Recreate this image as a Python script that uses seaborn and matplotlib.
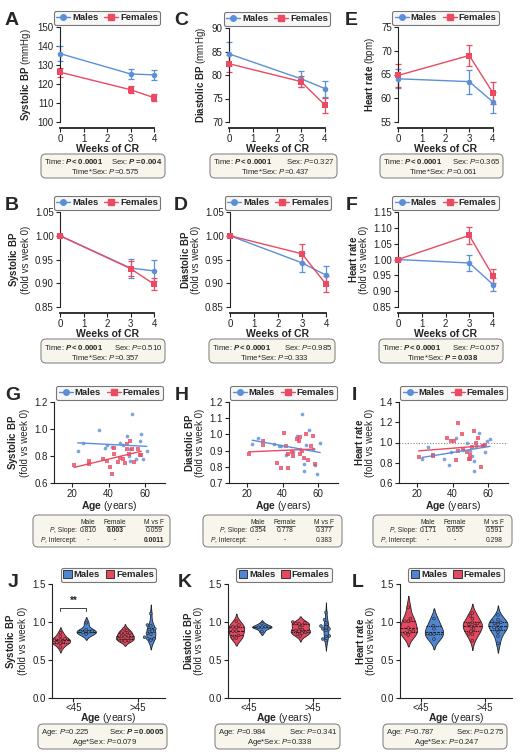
import numpy as np
import pandas as pd
import matplotlib.pyplot as plt
import seaborn as sns
from matplotlib.lines import Line2D
from matplotlib.patches import Patch, FancyBboxPatch
from matplotlib.ticker import FormatStrFormatter

sns.set_style("ticks")
plt.rcParams["font.family"] = ["Liberation Sans", "DejaVu Sans"]
plt.rcParams.update({
    "mathtext.fontset": "custom",
    "mathtext.rm": "Liberation Sans",
    "mathtext.it": "Liberation Sans:italic",
    "mathtext.bf": "Liberation Sans:bold",
    "mathtext.bfit": "Liberation Sans:italic:bold",
    "axes.linewidth": 0.8,
    "axes.edgecolor": "#222222",
    "xtick.color": "#222222", "ytick.color": "#222222",
    "xtick.major.width": 0.8, "ytick.major.width": 0.8,
    "xtick.major.size": 3, "ytick.major.size": 3,
    "xtick.labelsize": 7, "ytick.labelsize": 7,
    "xtick.major.pad": 1.5, "ytick.major.pad": 1.5,
})

BLUE = "#5b8fd8"
RED = "#ea4a62"
PAL = {"Males": BLUE, "Females": RED}
VPAL = {"Males": "#4f86d2", "Females": "#e5485f"}

# ---- weekly means +/- SEM (A-F) ----
weeks = [0, 3, 4]
sbp_m, sbp_m_se = [136.0, 125.3, 124.8], [4.0, 2.8, 2.5]
sbp_f, sbp_f_se = [126.2, 117.0, 112.8], [2.3, 1.8, 1.8]
dbp_m, dbp_m_se = [84.5, 79.2, 77.1], [2.5, 1.7, 1.7]
dbp_f, dbp_f_se = [82.4, 78.6, 73.6], [1.8, 1.2, 1.6]
hr_m, hr_m_se = [64.1, 63.5, 59.2], [2.0, 2.5, 2.2]
hr_f, hr_f_se = [64.8, 69.0, 61.1], [2.4, 2.2, 2.3]
sbp_fold_m, sbp_fold_m_se = [1.0, 0.932, 0.926], [0.0, 0.020, 0.022]
sbp_fold_f, sbp_fold_f_se = [1.0, 0.931, 0.898], [0.0, 0.015, 0.013]
dbp_fold_m, dbp_fold_m_se = [1.0, 0.943, 0.917], [0.0, 0.020, 0.020]
dbp_fold_f, dbp_fold_f_se = [1.0, 0.962, 0.898], [0.0, 0.020, 0.017]
hr_fold_m, hr_fold_m_se = [1.0, 0.989, 0.921], [0.0, 0.025, 0.020]
hr_fold_f, hr_fold_f_se = [1.0, 1.076, 0.948], [0.0, 0.027, 0.022]

# ---- individual fold change at week 4 vs age (G-L) ----
male_age = [23, 26, 35, 38, 39, 42, 46, 48, 50, 51, 52, 52, 53, 55, 57, 58, 59, 61]
female_age = [21, 29, 29, 37, 39, 41, 42, 43, 43, 45, 46, 48, 49, 50, 50, 51, 52, 53, 54, 56, 57, 58]
sbp_ind_m = [0.84, 0.90, 0.99, 0.86, 0.88, 0.87, 0.90, 0.88, 0.95, 0.80, 0.76, 0.85,
             1.11, 0.78, 0.91, 0.96, 0.78, 0.84]
sbp_ind_f = [0.73, 0.74, 0.76, 0.78, 0.765, 0.72, 0.67, 0.815, 0.86, 0.755, 0.785, 0.78,
             0.75, 0.855, 0.89, 0.815, 0.91, 0.855, 0.755, 0.855, 0.81, 0.805]
dbp_ind_m = [0.94, 0.978, 0.94, 0.93, 0.93, 0.875, 0.89, 0.99, 0.91, 1.126, 0.776, 0.817,
             0.937, 1.03, 0.91, 0.81, 0.756, 0.947]
dbp_ind_f = [0.88, 0.96, 0.937, 0.824, 0.79, 1.01, 0.93, 0.79, 0.88, 0.89, 0.865, 0.974,
             0.957, 0.982, 0.88, 0.90, 0.855, 1.00, 0.84, 0.93, 0.99, 0.817]
hr_ind_m = [0.84, 0.953, 0.84, 0.775, 0.91, 1.045, 0.93, 0.995, 0.913, 0.864, 0.814, 0.72,
            0.97, 1.094, 0.98, 0.906, 1.01, 1.03]
hr_ind_f = [0.854, 0.88, 0.87, 1.045, 1.01, 1.01, 0.83, 1.193, 0.92, 1.08, 0.94, 0.907,
            0.84, 0.84, 0.88, 0.953, 1.118, 0.995, 1.045, 0.755, 0.97, 0.98]

W, H = 520, 753
fig = plt.figure(figsize=(W / 100, H / 100), dpi=100)
renderer = fig.canvas.get_renderer()


def px_ax(l, t, r, b):
    return fig.add_axes([l / W, 1 - b / H, (r - l) / W, (b - t) / H])


def ftext(x, y, s, **kw):
    return fig.text(x / 100, (H - y) / 100, s, transform=fig.dpi_scale_trans, **kw)


def add_legend(ax, patches=False):
    if patches:
        handles = [Patch(facecolor=VPAL["Males"], edgecolor="#222", lw=0.6),
                   Patch(facecolor=VPAL["Females"], edgecolor="#222", lw=0.6)]
        hl = 0.9
    else:
        handles = [Line2D([], [], color=BLUE, marker="o", ms=4, lw=1),
                   Line2D([], [], color=RED, marker="s", ms=4, lw=1)]
        hl = 1.5
    leg = ax.legend(handles, ["Males", "Females"], ncol=2, loc="lower center",
                    bbox_to_anchor=(0.5, 1.0), frameon=True, fancybox=True,
                    prop={"weight": "bold", "size": 6.8}, handlelength=hl,
                    handleheight=0.8, handletextpad=0.2, columnspacing=0.6,
                    borderpad=0.25, borderaxespad=0.25)
    fr = leg.get_frame()
    fr.set_edgecolor("#777777")
    fr.set_facecolor("#f7f7f7")
    fr.set_linewidth(0.8)
    fr.set_alpha(1)


def line_panel(ax, m, m_se, f, f_se, yticks, fmt, ylabel):
    df = pd.DataFrame({"Week": weeks + weeks, "Value": m + f,
                       "Sex": ["Males"] * 3 + ["Females"] * 3})
    for vals, errs, col in [(m, m_se, BLUE), (f, f_se, RED)]:
        ax.errorbar(weeks, vals, yerr=errs, fmt="none", ecolor=col, elinewidth=0.9,
                    capsize=2, capthick=0.9, clip_on=False, zorder=2)
    sns.lineplot(data=df, x="Week", y="Value", hue="Sex", style="Sex",
                 hue_order=["Males", "Females"], style_order=["Males", "Females"],
                 palette=PAL, markers={"Males": "o", "Females": "s"}, dashes=False,
                 markersize=4, markeredgewidth=0, lw=1, legend=False, ax=ax,
                 clip_on=False, zorder=3)
    ax.set_xlim(0, 4)
    ax.set_xticks([0, 1, 2, 3, 4])
    ax.set_ylim(yticks[0], yticks[-1])
    ax.set_yticks(yticks)
    ax.yaxis.set_major_formatter(FormatStrFormatter(fmt))
    sns.despine(ax=ax)
    ax.spines["bottom"].set_position(("outward", 4))
    ax.spines["bottom"].set_bounds(0, 4)
    ax.spines["bottom"].set_linewidth(1.3)
    ax.set_xlabel("Weeks of CR", fontweight="bold", fontsize=7.5, labelpad=0)
    ax.set_ylabel(ylabel, fontsize=7, labelpad=3, linespacing=1.0)
    add_legend(ax)


def scatter_panel(ax, m_val, f_val, yticks, fmt, ylabel, ref=False):
    if ref:
        ax.axhline(1.0, color="#888888", lw=0.8, ls=(0, (1, 1.5)), zorder=0)
    for age, val, col, mk in [(male_age, m_val, BLUE, "o"), (female_age, f_val, RED, "s")]:
        sns.regplot(x=np.array(age, float), y=np.array(val), ax=ax, ci=None, color=col,
                    marker=mk, scatter_kws={"s": 7, "linewidths": 0, "clip_on": False},
                    line_kws={"lw": 1})
    ax.set_xlim(10, 71)
    ax.set_xticks([20, 40, 60])
    ax.set_ylim(yticks[0], yticks[-1])
    ax.set_yticks(yticks)
    ax.yaxis.set_major_formatter(FormatStrFormatter(fmt))
    sns.despine(ax=ax)
    ax.set_xlabel(r"$\mathbf{Age}$ (years)", fontsize=7.5, labelpad=0)
    ax.set_ylabel(ylabel, fontsize=7, labelpad=3, linespacing=1.0)
    add_legend(ax)


def violin_panel(ax, m_val, f_val, ylabel):
    df = pd.DataFrame({"Age": male_age + female_age, "Value": m_val + f_val,
                       "Sex": ["Males"] * len(male_age) + ["Females"] * len(female_age)})
    df["Group"] = np.where(df["Age"] < 45, "<45", ">45")
    sns.violinplot(data=df, x="Group", y="Value", hue="Sex", order=["<45", ">45"],
                   hue_order=["Females", "Males"], palette=VPAL, inner="quart",
                   width=0.8, gap=0.25, linewidth=0.6, linecolor="#222222",
                   saturation=1, legend=False, ax=ax, inner_kws={"linewidth": 0.8})
    sns.swarmplot(data=df, x="Group", y="Value", hue="Sex", order=["<45", ">45"],
                  hue_order=["Females", "Males"], palette=VPAL, dodge=True, size=2,
                  edgecolor="#222222", linewidth=0.4, legend=False, ax=ax)
    ax.set_xlim(-0.33, 1.42)
    ax.set_ylim(0, 1.5)
    ax.set_yticks([0.0, 0.5, 1.0, 1.5])
    ax.yaxis.set_major_formatter(FormatStrFormatter("%.1f"))
    ax.tick_params(axis="x", pad=0.5)
    sns.despine(ax=ax)
    ax.set_xlabel(r"$\mathbf{Age}$ (years)", fontsize=7.5, labelpad=-1.5)
    ax.set_ylabel(ylabel, fontsize=7, labelpad=3, linespacing=1.0)
    add_legend(ax, patches=True)


def stat_box(x0, y0, x1, y1, left, right, bottom):
    fig.add_artist(FancyBboxPatch((x0 / 100, (H - y1) / 100), (x1 - x0) / 100,
                                  (y1 - y0) / 100, boxstyle="round,pad=0,rounding_size=0.05",
                                  transform=fig.dpi_scale_trans, fc="#f8f6ec", ec="#888888",
                                  lw=0.8))
    ftext(x0 + 3, y0 + 8, left, fontsize=5.6, ha="left", va="center")
    ftext(x1 - 3, y0 + 8, right, fontsize=5.6, ha="right", va="center")
    ftext((x0 + x1) / 2 + 2, y0 + 18, bottom, fontsize=5.6, ha="center", va="center")


def row_label(x, y, rest, fs):
    # plain ", Slope:" text, then an italic "P" placed just to its left
    t = ftext(x, y, rest, fontsize=fs, ha="right", va="center")
    bb = t.get_window_extent(renderer)
    ftext(bb.x0 * 100 / fig.dpi, y, "P", fontsize=fs, ha="right", va="center",
          fontstyle="italic")


def table_box(x0, y0, x1, y1, slope, intercept):
    fig.add_artist(FancyBboxPatch((x0 / 100, (H - y1) / 100), (x1 - x0) / 100,
                                  (y1 - y0) / 100, boxstyle="round,pad=0,rounding_size=0.05",
                                  transform=fig.dpi_scale_trans, fc="#f8f6ec", ec="#888888",
                                  lw=0.8))
    fs = 4.9
    cols = [x0 + 55, x0 + 82, x0 + 121]
    widths = [13, 19, 18]
    for cx, w, name in zip(cols, widths, ["Male", "Female", "M vs F"]):
        ftext(cx, y0 + 7, name, fontsize=fs, ha="center", va="center")
        fig.add_artist(Line2D([(cx - w / 2) / 100, (cx + w / 2) / 100],
                              [(H - y0 - 10.5) / 100] * 2, transform=fig.dpi_scale_trans,
                              color="#222", lw=0.5))
    row_label(x0 + 44, y0 + 16, ", Slope:", fs)
    row_label(x0 + 44, y0 + 25, ", Intercept:", fs)
    for cx, (s, b) in zip(cols, slope):
        ftext(cx, y0 + 16, s, fontsize=fs, ha="center", va="center",
              fontweight="bold" if b else "normal")
    for cx, (s, b) in zip(cols, intercept):
        ftext(cx, y0 + 25, s, fontsize=fs, ha="center", va="center",
              fontweight="bold" if b else "normal")


BP = r"$\mathbf{Systolic\ BP}$"
DP = r"$\mathbf{Diastolic\ BP}$"
HRL = r"$\mathbf{Heart\ rate}$"
FOLD = "\n(fold vs week 0)"
TIME_SIG = r"Time: $\mathbfit{P}\mathbf{{<}0.0001}$"

# ---- row 1 ----
axA = px_ax(60, 27, 154, 122)
line_panel(axA, sbp_m, sbp_m_se, sbp_f, sbp_f_se, list(range(100, 151, 10)), "%d",
           BP + " (mmHg)")
axC = px_ax(229, 28, 325, 122)
line_panel(axC, dbp_m, dbp_m_se, dbp_f, dbp_f_se, list(range(70, 91, 5)), "%d",
           DP + " (mmHg)")
axE = px_ax(398, 27, 493, 122)
line_panel(axE, hr_m, hr_m_se, hr_f, hr_f_se, list(range(55, 76, 5)), "%d",
           HRL + " (bpm)")

# ---- row 2 ----
axB = px_ax(60, 212, 154, 307)
line_panel(axB, sbp_fold_m, sbp_fold_m_se, sbp_fold_f, sbp_fold_f_se,
           [0.85, 0.90, 0.95, 1.00, 1.05], "%.2f", BP + FOLD)
axD = px_ax(230, 212, 326, 307)
line_panel(axD, dbp_fold_m, dbp_fold_m_se, dbp_fold_f, dbp_fold_f_se,
           [0.85, 0.90, 0.95, 1.00, 1.05], "%.2f", DP + FOLD)
axF = px_ax(398, 212, 493, 307)
line_panel(axF, hr_fold_m, hr_fold_m_se, hr_fold_f, hr_fold_f_se,
           [0.85, 0.90, 0.95, 1.00, 1.05, 1.10, 1.15], "%.2f", HRL + FOLD)

# ---- row 3 ----
axG = px_ax(54, 402, 165, 483)
scatter_panel(axG, sbp_ind_m, sbp_ind_f, [0.6, 0.8, 1.0, 1.2], "%.1f", BP + FOLD)
axH = px_ax(229, 402, 338, 483)
scatter_panel(axH, dbp_ind_m, dbp_ind_f, [0.7, 0.8, 0.9, 1.0, 1.1, 1.2], "%.1f", DP + FOLD)
axI = px_ax(399, 402, 508, 483)
scatter_panel(axI, hr_ind_m, hr_ind_f, [0.6, 0.8, 1.0, 1.2, 1.4], "%.1f", HRL + FOLD, ref=True)

# ---- row 4 ----
axJ = px_ax(52, 584, 165, 698)
violin_panel(axJ, sbp_ind_m, sbp_ind_f, BP + FOLD)
axJ.plot([-0.2, -0.2, 0.2, 0.2], [1.14, 1.19, 1.19, 1.14], color="#444444", lw=0.7)
axJ.text(0, 1.21, "**", ha="center", va="bottom", fontsize=7, fontweight="bold")
axK = px_ax(228, 584, 340, 698)
violin_panel(axK, dbp_ind_m, dbp_ind_f, DP + FOLD)
axL = px_ax(400, 584, 512, 698)
violin_panel(axL, hr_ind_m, hr_ind_f, HRL + FOLD)

# ---- panel letters ----
for letter, x, y in [("A", 5, 12), ("C", 174, 12), ("E", 345, 12),
                     ("B", 5, 197), ("D", 174, 197), ("F", 346, 197),
                     ("G", 5, 387), ("H", 175, 387), ("I", 352, 387),
                     ("J", 8, 574), ("K", 178, 574), ("L", 352, 574)]:
    ftext(x, y, letter, fontsize=14, fontweight="bold", ha="left", va="top")

# ---- statistics boxes ----
stat_box(41, 154, 165, 178, TIME_SIG, r"Sex: $\mathbfit{P}\mathbf{{=}0.004}$",
         r"Time*Sex: $\mathit{P}$=0.575")
stat_box(210, 154, 337, 178, TIME_SIG, r"Sex: $\mathit{P}$=0.327",
         r"Time*Sex: $\mathit{P}$=0.437")
stat_box(380, 154, 503, 178, TIME_SIG, r"Sex: $\mathit{P}$=0.365",
         r"Time*Sex: $\mathit{P}$=0.061")
stat_box(41, 339, 165, 363, TIME_SIG, r"Sex: $\mathit{P}$=0.510",
         r"Time*Sex: $\mathit{P}$=0.357")
stat_box(209, 339, 335, 363, TIME_SIG, r"Sex: $\mathit{P}$=0.985",
         r"Time*Sex: $\mathit{P}$=0.333")
stat_box(379, 339, 503, 363, TIME_SIG, r"Sex: $\mathit{P}$=0.057",
         r"Time*Sex: $\mathbfit{P}\mathbf{{=}0.038}$")
stat_box(38, 724, 167, 749, r"Age: $\mathit{P}$=0.225", r"Sex: $\mathbfit{P}\mathbf{{=}0.0005}$",
         r"Age*Sex: $\mathit{P}$=0.079")
stat_box(215, 724, 340, 749, r"Age: $\mathit{P}$=0.984", r"Sex: $\mathit{P}$=0.341",
         r"Age*Sex: $\mathit{P}$=0.338")
stat_box(383, 724, 507, 749, r"Age: $\mathit{P}$=0.787", r"Sex: $\mathit{P}$=0.275",
         r"Age*Sex: $\mathit{P}$=0.247")

table_box(33, 515, 170, 547, [("0.810", False), ("0.003", True), ("0.059", False)],
          [("-", False), ("-", False), ("0.0011", True)])
table_box(203, 515, 342, 547, [("0.354", False), ("0.778", False), ("0.377", False)],
          [("-", False), ("-", False), ("0.383", False)])
table_box(373, 515, 512, 547, [("0.171", False), ("0.655", False), ("0.591", False)],
          [("-", False), ("-", False), ("0.298", False)])

fig.savefig("out.png", dpi=100)
